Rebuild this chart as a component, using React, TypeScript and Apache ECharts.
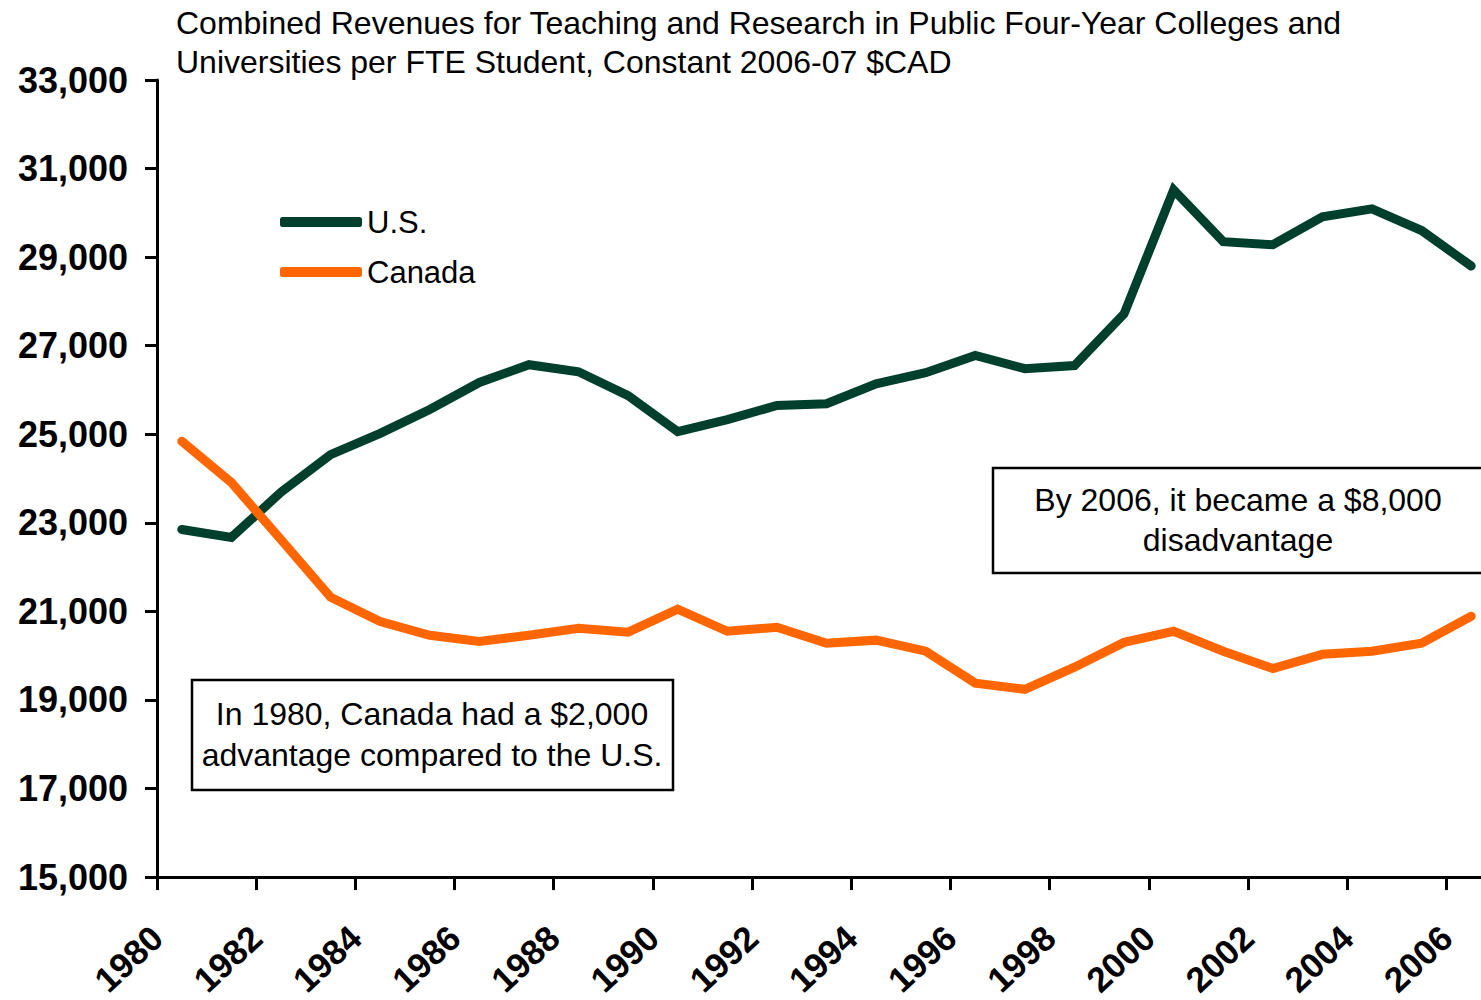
import React, { useEffect, useRef } from 'react';
import * as echarts from 'echarts';

const years = [1980, 1981, 1982, 1983, 1984, 1985, 1986, 1987, 1988, 1989, 1990, 1991, 1992, 1993, 1994, 1995, 1996, 1997, 1998, 1999, 2000, 2001, 2002, 2003, 2004, 2005, 2006];
const usValues = [22850, 22670, 23690, 24540, 25020, 25560, 26170, 26570, 26410, 25870, 25060, 25330, 25650, 25690, 26140, 26390, 26780, 26480, 26550, 27720, 30520, 29350, 29280, 29910, 30090, 29600, 28800];
const canadaValues = [24840, 23910, 22620, 21320, 20770, 20460, 20320, 20460, 20620, 20530, 21050, 20550, 20640, 20280, 20350, 20100, 19380, 19240, 19740, 20300, 20550, 20100, 19710, 20030, 20100, 20280, 20890];
const seriesNames = ['U.S.', 'Canada'];
const titleLines = [
  'Combined Revenues for Teaching and Research in Public Four-Year Colleges and',
  'Universities per FTE Student, Constant 2006-07 $CAD',
];
const note1980 = ['In 1980, Canada had a $2,000', 'advantage compared to the U.S.'];
const note2006 = ['By 2006, it became a $8,000', 'disadvantage'];
const yMin = 15000;
const yMax = 33000;
const yStep = 2000;
const xMin = 1980;
const xMax = 2007;
const xStep = 2;

const FONT = '"Liberation Sans", Arial, sans-serif';
const US_COLOR = '#003F2C';
const CA_COLOR = '#FF6600';

export default function App() {
  const ref = useRef<HTMLDivElement>(null);
  useEffect(() => {
    if (!ref.current) return;
    const chart = echarts.init(ref.current, null, { renderer: 'svg' });
    const fmt = (v: number) => v.toLocaleString('en-US');
    chart.setOption({
      animation: false,
      backgroundColor: '#ffffff',
      title: {
        text: titleLines.join('\n'),
        left: 171,
        top: -2,
        textStyle: { fontFamily: FONT, fontSize: 32, fontWeight: 'normal', color: '#000', lineHeight: 39 },
      },
      legend: {
        data: seriesNames,
        orient: 'vertical',
        left: 275,
        top: 196,
        itemWidth: 82,
        itemHeight: 10,
        itemGap: 8,
        icon: 'roundRect',
        textStyle: { fontFamily: FONT, fontSize: 31, color: '#000', lineHeight: 30, padding: [12, 0, 0, 0] },
      },
      grid: { left: 157, top: 80, width: 1339, bottom: 122, containLabel: false },
      xAxis: {
        type: 'value',
        min: xMin,
        max: xMax,
        interval: xStep,
        axisLine: { lineStyle: { color: '#000', width: 3 } },
        axisTick: { show: true, length: 13, lineStyle: { color: '#000', width: 3 } },
        splitLine: { show: false },
        axisLabel: {
          rotate: 43,
          align: 'right',
          verticalAlign: 'middle',
          margin: 55,
          fontFamily: FONT,
          fontSize: 35,
          fontWeight: 'bold',
          color: '#000',
          showMaxLabel: false,
          formatter: (v: number) => ((v - xMin) % xStep === 0 ? String(v) : ''),
        },
      },
      yAxis: {
        type: 'value',
        min: yMin,
        max: yMax,
        interval: yStep,
        axisLine: { show: true, lineStyle: { color: '#000', width: 3 } },
        axisTick: { show: true, length: 12, lineStyle: { color: '#000', width: 3 } },
        splitLine: { show: false },
        axisLabel: {
          margin: 29,
          fontFamily: FONT,
          fontSize: 36,
          fontWeight: 'bold',
          color: '#000',
          formatter: (v: number) => fmt(v),
        },
      },
      series: [
        {
          name: seriesNames[0],
          type: 'line',
          data: years.map((y, i) => [y + 0.5, usValues[i]]),
          symbol: 'none',
          color: US_COLOR,
          lineStyle: { color: US_COLOR, width: 9, cap: 'round', join: 'miter' },
          z: 3,
        },
        {
          name: seriesNames[1],
          type: 'line',
          data: years.map((y, i) => [y + 0.5, canadaValues[i]]),
          symbol: 'none',
          color: CA_COLOR,
          lineStyle: { color: CA_COLOR, width: 9, cap: 'round', join: 'miter' },
          z: 4,
        },
      ],
      graphic: [
        {
          type: 'rect',
          shape: { x: 192, y: 680, width: 481, height: 110 },
          style: { fill: '#fff', stroke: '#000', lineWidth: 2.5 },
          z: 10,
        },
        {
          type: 'text',
          x: 432,
          y: 734,
          style: {
            text: note1980.join('\n'),
            fontFamily: FONT,
            fontSize: 32,
            lineHeight: 41,
            fill: '#000',
            align: 'center',
            verticalAlign: 'middle',
          },
          z: 11,
        },
        {
          type: 'rect',
          shape: { x: 993, y: 468, width: 520, height: 105 },
          style: { fill: '#fff', stroke: '#000', lineWidth: 2.5 },
          z: 10,
        },
        {
          type: 'text',
          x: 1238,
          y: 520,
          style: {
            text: note2006.join('\n'),
            fontFamily: FONT,
            fontSize: 32,
            lineHeight: 40,
            fill: '#000',
            align: 'center',
            verticalAlign: 'middle',
          },
          z: 11,
        },
      ],
    });
    return () => chart.dispose();
  }, []);
  return (
    <div style={{ position: 'fixed', left: 0, top: 0, width: 1481, height: 1000, overflow: 'hidden', background: '#fff' }}>
      <div ref={ref} style={{ width: 1500, height: 1000 }} />
    </div>
  );
}
